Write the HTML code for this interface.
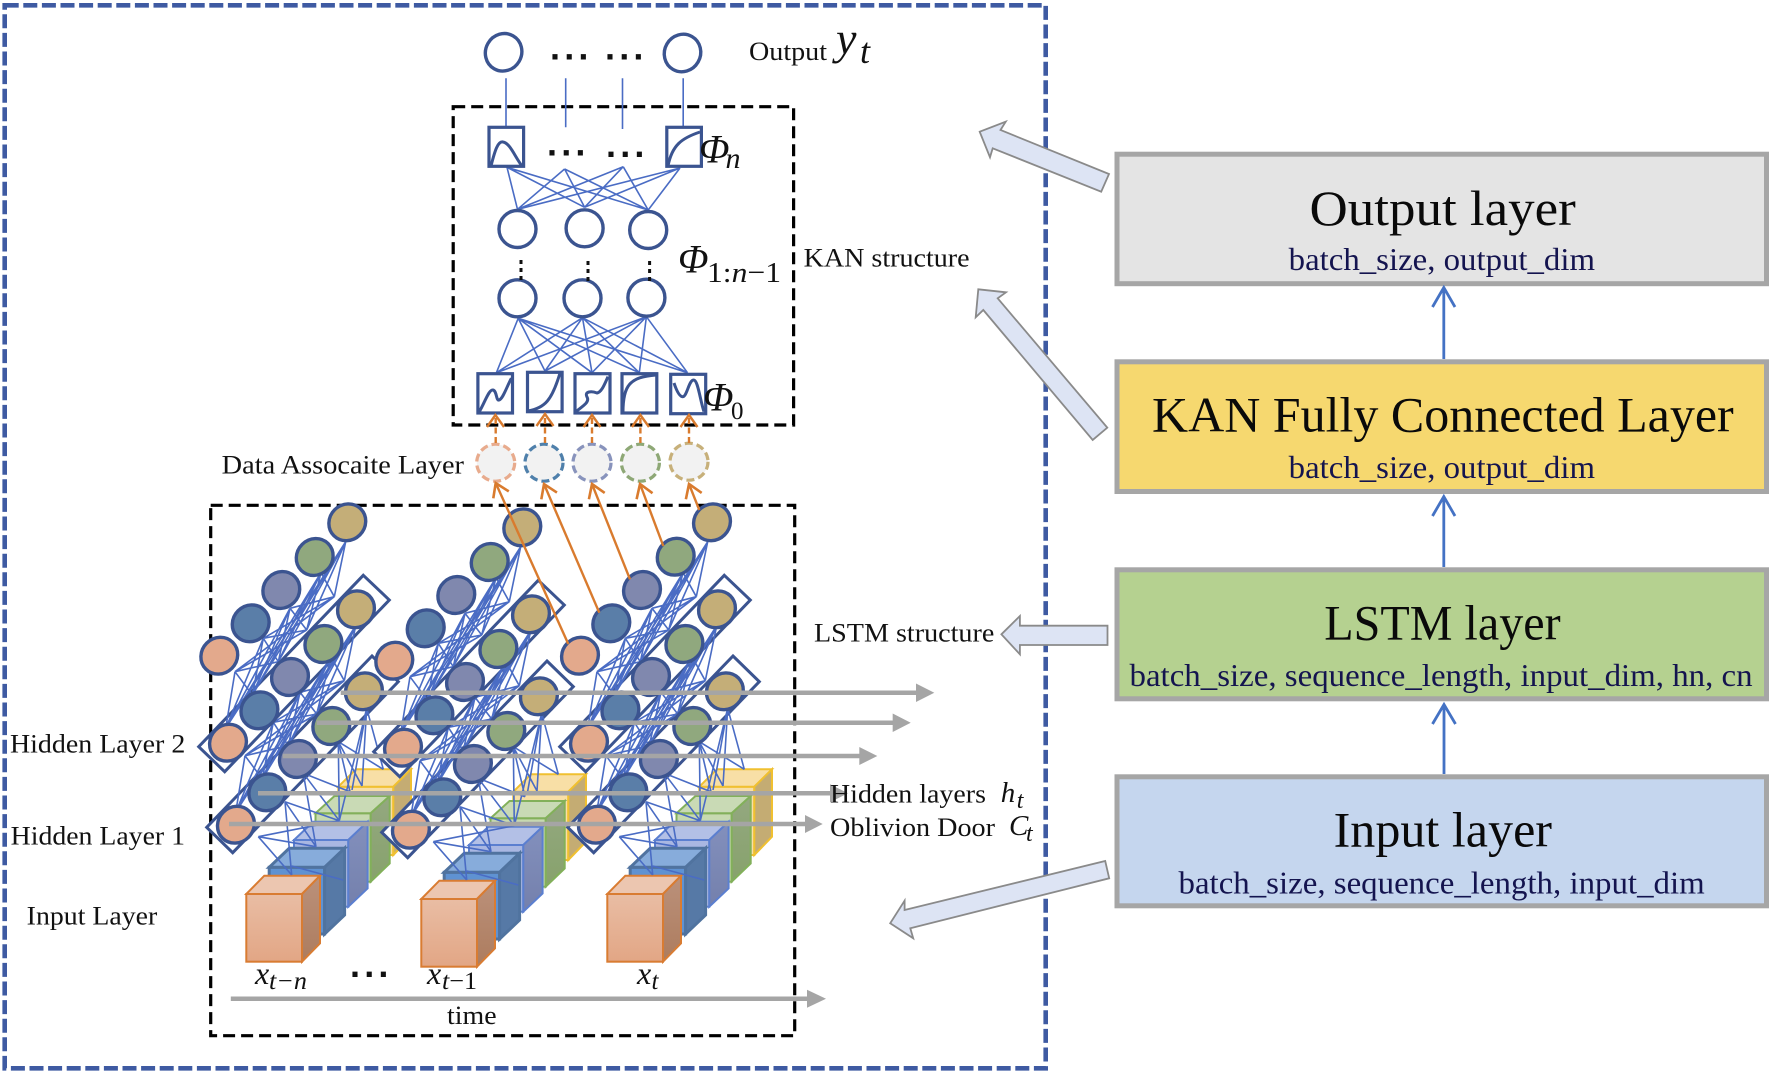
<!DOCTYPE html>
<html><head><meta charset="utf-8"><title>LSTM-KAN architecture</title>
<style>
html,body{margin:0;padding:0;background:#fff}
svg{display:block}
text{font-family:"Liberation Serif",serif;fill:#111}
.lbl{font-size:26px}
.it{font-style:italic}
.t{font-size:50px;fill:#0a0a0a}
.s{font-size:32px;fill:#14144f}
.d{font-family:"Liberation Sans",sans-serif;font-weight:bold;font-size:36px;letter-spacing:4.2px;fill:#111}
.n{fill:#fff;stroke:#3b5490;stroke-width:3.4}
.sq{fill:#fff;stroke:#3b5490;stroke-width:3.2}
.cv{fill:none;stroke:#3b5490;stroke-width:3}
.dash{fill:none;stroke:#000;stroke-width:3.2;stroke-dasharray:12 6}
.m{fill:none;stroke:#4a6cc4;stroke-width:1.6}
.bx{fill:#fff;stroke:#3b5490;stroke-width:3}
.ga{fill:none;stroke:#a5a5a5;stroke-width:4.5}
.gh{fill:#a5a5a5}
.or{fill:none;stroke:#d97b2e;stroke-width:2.4}
.ba{fill:#dde4f4;stroke:#8a8a8a;stroke-width:1.8}
.lay{stroke:#a6a6a6;stroke-width:5}
.ar{fill:none;stroke:#4472c4;stroke-width:2.8}
.c{stroke:#3b5490;stroke-width:3.4}
</style></head>
<body>
<svg xmlns="http://www.w3.org/2000/svg" width="1772" height="1075" viewBox="0 0 1772 1075">
<defs>
<linearGradient id="go" x1="0" y1="0" x2="0" y2="1"><stop offset="0" stop-color="#e9bda4"/><stop offset="1" stop-color="#e2a685"/></linearGradient>
<linearGradient id="gos" x1="0" y1="0" x2="0" y2="1"><stop offset="0" stop-color="#bb917b"/><stop offset="1" stop-color="#ad7c5e"/></linearGradient>
<linearGradient id="gps" x1="0" y1="0" x2="0" y2="1"><stop offset="0" stop-color="#8390bd"/><stop offset="1" stop-color="#7480ac"/></linearGradient>
<linearGradient id="ggs" x1="0" y1="0" x2="0" y2="1"><stop offset="0" stop-color="#94a880"/><stop offset="1" stop-color="#87a26c"/></linearGradient>
<marker id="oh" markerUnits="userSpaceOnUse" markerWidth="24" markerHeight="24" viewBox="-14 -12 24 24" refX="0" refY="0" orient="auto">
<path d="M-13 -8.5L0 0L-13 8.5" fill="none" stroke="#d97b2e" stroke-width="2.6"/></marker>

<g id="cubes">
<g stroke="#f0c030" stroke-width="2"><rect x="338.3" y="786.7" width="55" height="68.3" fill="#f8dfa6"/><polygon points="338.3,786.7 356,769.3 411,769.3 393.3,786.7" fill="#f8dfa6"/><polygon points="393.3,786.7 411,769.3 411,836.7 393.3,855" fill="#c4ac73"/></g>
<g stroke="#82b05a" stroke-width="2"><rect x="315.5" y="813.3" width="55.2" height="68.4" fill="#c7d9b0"/><polygon points="315.5,813.3 334.5,796 389.7,796 370.7,813.3" fill="#c9dab5"/><polygon points="370.7,813.3 389.7,796 389.7,863.4 370.7,881.7" fill="url(#ggs)"/></g>
<g stroke="#5b7fd0" stroke-width="2"><rect x="294" y="840" width="54.3" height="66.7" fill="#a9b7e2"/><polygon points="294,840 313.3,821.7 367.6,821.7 348.3,840" fill="#b3c0e6"/><polygon points="348.3,840 367.6,821.7 367.6,888.4 348.3,906.7" fill="url(#gps)"/></g>
<g stroke="#50739f" stroke-width="3"><rect x="269.2" y="867.3" width="55.4" height="66.7" fill="#5f92d2"/><polygon points="269.2,867.3 289.2,848.3 344.6,848.3 324.6,867.3" fill="#87acdb"/><polygon points="324.6,867.3 344.6,848.3 344.6,915 324.6,934" fill="#5679a6"/></g>
<g stroke="#d97c32" stroke-width="2"><rect x="246.3" y="894" width="55.7" height="67.7" fill="url(#go)"/><polygon points="246.3,894 264.3,875.7 320,875.7 302,894" fill="#ecc6b0"/><polygon points="302,894 320,875.7 320,943.4 302,961.7" fill="url(#gos)"/></g>
</g>

<g id="boxes">
<polygon class="bx" points="372,656 398.3,681.7 232.7,852.7 206.7,827.3"/>
<polygon class="bx" points="363.3,575.3 389.3,600 224.7,771.7 198.7,746.7"/>
</g>

<path id="m1" class="m" d="M345.7 541.7L334.3 596.7M345.7 541.7L306.7 630M345.7 541.7L278.3 661.7M345.7 541.7L252.3 695M345.7 541.7L225.7 728.3M321 572.7L334.3 596.7M321 572.7L306.7 630M321 572.7L278.3 661.7M321 572.7L252.3 695M321 572.7L225.7 728.3M290 608.3L334.3 596.7M290 608.3L306.7 630M290 608.3L278.3 661.7M290 608.3L252.3 695M290 608.3L225.7 728.3M263.3 638.3L334.3 596.7M263.3 638.3L306.7 630M263.3 638.3L278.3 661.7M263.3 638.3L252.3 695M263.3 638.3L225.7 728.3M235 671.7L334.3 596.7M235 671.7L306.7 630M235 671.7L278.3 661.7M235 671.7L252.3 695M235 671.7L225.7 728.3"/>

<path id="m3" class="m" d="M366.7 708.3L383.3 769.3M366.7 708.3L362 786M366.7 708.3L339.3 820.7M366.7 708.3L352 790M338.3 741.7L383.3 769.3M338.3 741.7L350 791.7M338.3 741.7L339.3 820.7M338.3 741.7L362 786M303.3 773.3L350 791.7M303.3 773.3L339.3 820.7M303.3 773.3L316 846.7M285 801.7L339.3 820.7M285 801.7L316 846.7M285 801.7L291.7 875M258.3 836.7L339.3 820.7M258.3 836.7L316 846.7M258.3 836.7L291.7 875M291.7 866L343.3 880"/>

<g id="row">
<ellipse class="c" fill="#e3a98c" cx="219.3" cy="655.7" rx="19" ry="17.8" transform="rotate(-45 219.3 655.7)"/>
<ellipse class="c" fill="#5a7ea8" cx="250.7" cy="623.3" rx="19" ry="17.8" transform="rotate(-45 250.7 623.3)"/>
<ellipse class="c" fill="#8088ae" cx="281.3" cy="590" rx="19" ry="17.8" transform="rotate(-45 281.3 590)"/>
<ellipse class="c" fill="#90a87e" cx="314.7" cy="557" rx="19" ry="17.8" transform="rotate(-45 314.7 557)"/>
<ellipse class="c" fill="#c4ae78" cx="347.3" cy="522.3" rx="19" ry="17.8" transform="rotate(-45 347.3 522.3)"/>
</g>
</defs>

<rect width="1772" height="1075" fill="#fff"/>

<!-- outer dashed frame -->
<rect x="4.7" y="5.3" width="1041" height="1063" fill="none" stroke="#3e5aa2" stroke-width="4.6" stroke-dasharray="14 4.6"/>

<!-- LSTM dashed box -->
<rect class="dash" x="210.7" y="505.3" width="584" height="530.4"/>

<!-- LSTM groups -->
<g>
<use href="#cubes"/><use href="#boxes"/><use href="#m3"/><use href="#m1" transform="translate(10 84)"/><use href="#m1"/>
<use href="#row"/><use href="#row" transform="translate(8.7 87)"/><use href="#row" transform="translate(16.6 169)"/>
</g>
<g transform="translate(175 5)">
<use href="#cubes"/><use href="#boxes"/><use href="#m3"/><use href="#m1" transform="translate(10 84)"/><use href="#m1"/>
<use href="#row"/><use href="#row" transform="translate(8.7 87)"/><use href="#row" transform="translate(16.6 169)"/>
</g>
<g transform="translate(361 0)">
<use href="#cubes"/><use href="#boxes"/><use href="#m3"/><use href="#m1" transform="translate(10 84)"/><use href="#m1" transform="translate(1 0)"/>
<use href="#row" transform="translate(8.7 87)"/><use href="#row" transform="translate(16.6 169)"/>
</g>
<ellipse class="c" fill="#e3a98c" cx="580" cy="655.7" rx="19" ry="17.8" transform="rotate(-45 580 655.7)"/>
<ellipse class="c" fill="#5a7ea8" cx="611.3" cy="623.3" rx="19" ry="17.8" transform="rotate(-45 611.3 623.3)"/>
<ellipse class="c" fill="#8088ae" cx="642" cy="590" rx="19" ry="17.8" transform="rotate(-45 642 590)"/>
<ellipse class="c" fill="#90a87e" cx="675.7" cy="556.7" rx="19" ry="17.8" transform="rotate(-45 675.7 556.7)"/>
<ellipse class="c" fill="#c4ae78" cx="712" cy="522.3" rx="19" ry="17.8" transform="rotate(-45 712 522.3)"/>

<!-- grey arrows -->
<path class="ga" d="M340.7 692.7H918M316.7 722.7H895M282.7 756H861M258 793.3H832M229 824H807M230.8 998.7H809"/>
<polygon class="gh" points="916,683.5 934.3,692.7 916,702"/>
<polygon class="gh" points="892.7,713.5 910.7,722.7 892.7,732"/>
<polygon class="gh" points="859.3,747 877.3,756 859.3,765"/>
<polygon class="gh" points="830,784.3 848,793.3 830,802.3"/>
<polygon class="gh" points="805,815 822.7,824 805,833"/>
<polygon class="gh" points="807,989.7 826,998.7 807,1007.7"/>

<!-- KAN network -->
<rect class="dash" x="453.2" y="106.7" width="340.4" height="318.3"/>
<path class="m" d="M506 78.3V127.3M565.7 78.3V127.3M622.5 78.3V129M683.2 78.3V127.3"/>
<path class="m" d="M507 167.3L517.5 209.3M507 167.3L584.6 207.3M507 167.3L648.2 210M564.6 169L517.5 209.3M564.6 169L584.6 207.3M564.6 169L648.2 210M623.2 166.7L517.5 209.3M623.2 166.7L584.6 207.3M623.2 166.7L648.2 210M680 168L517.5 209.3M680 168L584.6 207.3M680 168L648.2 210"/>
<path class="m" d="M518.2 318.3L496.4 372.7M518.2 318.3L545 371M518.2 318.3L592 372.7M518.2 318.3L639.3 372.7M518.2 318.3L687.5 372.7M582.5 317.7L496.4 372.7M582.5 317.7L545 371M582.5 317.7L592 372.7M582.5 317.7L639.3 372.7M582.5 317.7L687.5 372.7M646.4 316.7L496.4 372.7M646.4 316.7L545 371M646.4 316.7L592 372.7M646.4 316.7L639.3 372.7M646.4 316.7L687.5 372.7"/>

<ellipse class="n" cx="503.6" cy="52.3" rx="19" ry="18" transform="rotate(-60 503.6 52.3)"/>
<ellipse class="n" cx="682.5" cy="53" rx="19" ry="18" transform="rotate(-60 682.5 53)"/>
<ellipse class="n" cx="517.5" cy="229" rx="18.5" ry="18.5"/>
<ellipse class="n" cx="584.6" cy="228.3" rx="18.5" ry="18.5"/>
<ellipse class="n" cx="648.2" cy="230" rx="18.5" ry="18.5"/>
<ellipse class="n" cx="517.5" cy="298.3" rx="18.5" ry="18.5"/>
<ellipse class="n" cx="582.5" cy="298.3" rx="18.5" ry="18.5"/>
<ellipse class="n" cx="646.4" cy="297.7" rx="18.5" ry="18.5"/>

<rect class="sq" x="489" y="127.3" width="34.6" height="39"/>
<path class="cv" d="M491 166C495 150 498 141 503 142C510 143 515 157 522 166"/>
<rect class="sq" x="666.8" y="127.3" width="34.6" height="39"/>
<path class="cv" d="M668 166C672 145 682 138 700 132"/>

<rect class="sq" x="477.9" y="373.7" width="34.6" height="39.3"/>
<path class="cv" d="M479.3 411.7C485 402 489 389 493 390C497 391 496 401 499 400C503 399 507 386 511.4 378.3"/>
<rect class="sq" x="527.5" y="372.3" width="34.6" height="39.4"/>
<path class="cv" d="M528 411C545 408 552 400 560 373"/>
<rect class="sq" x="575" y="373.7" width="35" height="39.3"/>
<path class="cv" d="M575.7 411.7C583 406 590 402 587 397C584 391 592 391 597 393C602 392 605 383 608 376.7"/>
<rect class="sq" x="622" y="373.7" width="34.8" height="39.3"/>
<path class="cv" d="M623 412C623 385 630 377 656 375"/>
<rect class="sq" x="670.7" y="374.3" width="35" height="39.4"/>
<path class="cv" d="M674 383C677 392 680 397 683 396.7C687 396 689 380 693.6 380C698 380 700 400 704 411.7"/>

<text class="d" x="550" y="59.5">...</text>
<text class="d" x="605" y="59.5">...</text>
<text class="d" x="547" y="155.5">...</text>
<text class="d" x="606" y="157">...</text>
<text class="d" x="350" y="977">...</text>
<path d="M521 260v4M521 268v4M521 276v4M588 261v4M588 269v4M588 277v4M649.6 261v4M649.6 269v4M649.6 277v4" stroke="#111" stroke-width="3" fill="none"/>

<!-- data associate -->
<g stroke-width="3.2" fill="#f2f2f2" stroke-dasharray="8 4">
<ellipse cx="495.7" cy="462.7" rx="19" ry="18.5" stroke="#e8ab8d"/>
<ellipse cx="544" cy="462.7" rx="19" ry="18.5" stroke="#4f80ab"/>
<ellipse cx="592" cy="462.7" rx="19" ry="18.5" stroke="#8893bc"/>
<ellipse cx="640.4" cy="462.7" rx="19" ry="18.5" stroke="#8ea876"/>
<ellipse cx="689" cy="461.7" rx="19" ry="18.5" stroke="#c7b07a"/>
</g>
<path class="or" stroke-dasharray="6 3.5" d="M495.7 443V416M545 443V415M592 443V416M640.4 443V416M689 443V416"/>
<path class="or" stroke-width="2.6" d="M487 427L495.4 415L504 427M536.5 426L545 414L553.5 426M583.5 427L592 415L600.5 427M632 427L640.4 415L649 427M680.5 427L689 415L697.5 427"/>
<path class="or" marker-end="url(#oh)" d="M568.3 644L495.7 483"/>
<path class="or" marker-end="url(#oh)" d="M599.3 612.7L544 484"/>
<path class="or" marker-end="url(#oh)" d="M630 579.3L592 484"/>
<path class="or" marker-end="url(#oh)" d="M663.3 546L640 484"/>
<path class="or" marker-end="url(#oh)" d="M699.3 510L689 484"/>

<!-- left side labels -->
<text class="lbl" x="749" y="60" textLength="78" lengthAdjust="spacingAndGlyphs">Output</text>
<text class="it" font-size="46" x="836" y="54">y</text>
<text class="it" font-size="36" x="860" y="63">t</text>
<text class="it" font-size="40" x="699" y="162.5">Φ</text>
<text class="it" font-size="30" x="725.5" y="168">n</text>
<text class="it" font-size="40" x="678" y="272.5">Φ</text>
<text font-size="29" x="707" y="282" textLength="74" lengthAdjust="spacingAndGlyphs">1:<tspan class="it">n</tspan>−1</text>
<text class="it" font-size="40" x="703" y="410.5">Φ</text>
<text font-size="25" x="731" y="419" textLength="12.5" lengthAdjust="spacingAndGlyphs">0</text>
<text class="lbl" x="803.6" y="266.7" textLength="166" lengthAdjust="spacingAndGlyphs">KAN structure</text>
<text class="lbl" x="221.7" y="473.3" textLength="242.3" lengthAdjust="spacingAndGlyphs">Data Assocaite Layer</text>
<text class="lbl" x="10" y="752.7" textLength="175.3" lengthAdjust="spacingAndGlyphs">Hidden Layer 2</text>
<text class="lbl" x="10.7" y="844.3" textLength="174.3" lengthAdjust="spacingAndGlyphs">Hidden Layer 1</text>
<text class="lbl" x="26.7" y="924.3" textLength="130.6" lengthAdjust="spacingAndGlyphs">Input Layer</text>
<text class="lbl" x="814" y="641.7" textLength="180.3" lengthAdjust="spacingAndGlyphs">LSTM structure</text>
<text class="lbl" x="830" y="802.7" textLength="156" lengthAdjust="spacingAndGlyphs">Hidden layers</text>
<text class="it" font-size="29" x="1000.7" y="802">h</text>
<text class="it" font-size="24" x="1016.7" y="808">t</text>
<text class="lbl" x="830" y="836" textLength="165" lengthAdjust="spacingAndGlyphs">Oblivion Door</text>
<text class="it" font-size="29" x="1009" y="835">C</text>
<text class="it" font-size="24" x="1026" y="841">t</text>
<text class="it" font-size="32" x="255" y="984">x</text>
<text class="it" font-size="25" x="269" y="989" textLength="38" lengthAdjust="spacingAndGlyphs">t−n</text>
<text class="it" font-size="32" x="427" y="984">x</text>
<text font-size="25" x="442" y="989" textLength="35" lengthAdjust="spacingAndGlyphs"><tspan class="it">t</tspan>−1</text>
<text class="it" font-size="32" x="637" y="984">x</text>
<text class="it" font-size="25" x="651.5" y="989">t</text>
<text class="lbl" x="447" y="1024" textLength="49.6" lengthAdjust="spacingAndGlyphs">time</text>

<!-- block arrows -->
<polygon class="ba" points="979.7,131.7 1005.7,121.7 1000.5,130 1109,174 1101.2,191.7 992.7,148.3 990,157.3"/>
<polygon class="ba" points="978.3,289.3 1006,292.3 997.7,298.3 1107.3,427.7 1092.7,440 983.3,310 975.7,317.3"/>
<polygon class="ba" points="1001.4,634.3 1019.9,616 1019.9,625.7 1107.5,625.7 1107.5,645 1019.9,645 1019.9,654.3"/>
<polygon class="ba" points="890.2,923.3 913.2,938.3 910.3,928.3 1109.2,878.3 1105.2,861 904.6,910 904.6,900.7"/>

<!-- layers panel -->
<rect class="lay" x="1117" y="154.2" width="649.5" height="129.5" fill="#e4e4e4"/>
<rect class="lay" x="1117" y="361.8" width="649.5" height="129.7" fill="#f6d86f"/>
<rect class="lay" x="1117" y="569.8" width="649.5" height="129" fill="#b5d190"/>
<rect class="lay" x="1117" y="776.8" width="649.5" height="129" fill="#c5d6ee"/>

<path class="ar" d="M1443.8 359V288M1432.5 307L1443.8 287.5L1455 307M1443.8 567V497M1432.5 516L1443.8 496.5L1455 516M1444 774V705M1432.5 724L1444 704.5L1455.5 724"/>

<text class="t" x="1309.5" y="225" textLength="266.3" lengthAdjust="spacingAndGlyphs">Output layer</text>
<text class="s" x="1288.7" y="270" textLength="306.3" lengthAdjust="spacingAndGlyphs">batch_size, output_dim</text>
<text class="t" x="1152" y="431.7" textLength="581.7" lengthAdjust="spacingAndGlyphs">KAN Fully Connected Layer</text>
<text class="s" x="1288.7" y="478" textLength="306.3" lengthAdjust="spacingAndGlyphs">batch_size, output_dim</text>
<text class="t" x="1324.3" y="639.3" textLength="236.3" lengthAdjust="spacingAndGlyphs">LSTM layer</text>
<text class="s" x="1129.5" y="686" textLength="623.1" lengthAdjust="spacingAndGlyphs">batch_size, sequence_length, input_dim, hn, cn</text>
<text class="t" x="1333.6" y="846.7" textLength="218.4" lengthAdjust="spacingAndGlyphs">Input layer</text>
<text class="s" x="1178.5" y="893.3" textLength="526.2" lengthAdjust="spacingAndGlyphs">batch_size, sequence_length, input_dim</text>
</svg>
</body></html>
